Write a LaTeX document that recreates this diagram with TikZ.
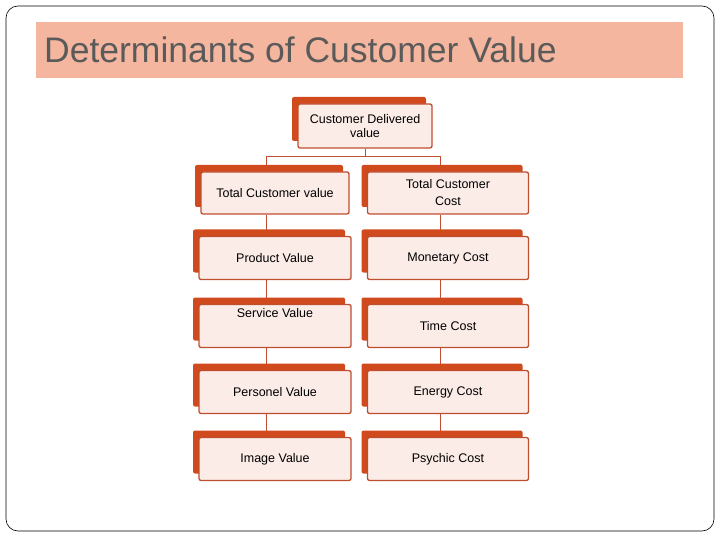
\documentclass[tikz,border=0pt]{standalone}
\usepackage{fontspec}
\setmainfont{Liberation Sans}
\usetikzlibrary{backgrounds}
\definecolor{band}{RGB}{244,182,158}
\definecolor{backred}{RGB}{208,74,30}
\definecolor{edge}{RGB}{190,78,48}
\definecolor{face}{RGB}{251,236,231}
\definecolor{titlegray}{RGB}{90,90,90}
\tikzset{back/.style={rectangle,rounded corners=2pt,fill=backred,inner sep=0pt},
  front/.style={rectangle,rounded corners=2pt,draw=edge,line width=1.3pt,fill=face,inner sep=0pt,align=center,font=\fontsize{12.5}{14}\selectfont},
  link/.style={draw=edge,line width=0.9pt}}
\newcommand{\cvbox}[6]{% name, cx, cy, width, height, text
  \node[back,minimum width=#4,minimum height=#5] (#1-b) at (#2-6,#3-7) {};
  \node[front,minimum width=#4,minimum height=#5] (#1) at (#2,#3) {#6};}
\begin{document}
\begin{tikzpicture}[x=1pt,y=-1pt]
\useasboundingbox (0,0) rectangle (720,540);
\draw[rounded corners=12pt,line width=0.6pt] (6,6) rectangle (714,531);
\fill[band] (36,22) rectangle (683,78);
\node[anchor=west,inner sep=0pt,text=titlegray,font=\fontsize{35.5}{38}\selectfont] (title) at (44,50) {Determinants of Customer Value};

\cvbox{cdv}{365}{126}{134}{44}{Customer Delivered\\value}
\cvbox{tcv}{275}{193}{148}{42}{Total Customer value}
\cvbox{tcc}{448}{193}{161}{42}{Total Customer\\[3pt]Cost}
\cvbox{pv}{275}{258}{152}{43}{Product Value}
\cvbox{mc}{448}{258}{161}{43}{Monetary Cost}
\cvbox{sv}{275}{326}{152}{43}{Service Value\\[12pt]\mbox{}}
\cvbox{tc}{448}{326}{161}{43}{Time Cost}
\cvbox{pnv}{275}{392}{152}{43}{Personel Value}
\cvbox{ec}{448}{392}{161}{43}{Energy Cost}
\cvbox{iv}{275}{459}{152}{43}{Image Value}
\cvbox{pc}{448}{459}{161}{43}{Psychic Cost}

\begin{scope}[on background layer]
\draw[link] (cdv.south) -- ++(0,8) -| ([xshift=-9]tcv.north);
\draw[link] (cdv.south) -- ++(0,8) -| ([xshift=-8]tcc.north);
\foreach \a/\b in {tcv/pv,pv/sv,sv/pnv,pnv/iv}
  \draw[link] ([xshift=-9]\a.south) -- ([xshift=-9]\b.north);
\foreach \a/\b in {tcc/mc,mc/tc,tc/ec,ec/pc}
  \draw[link] ([xshift=-8]\a.south) -- ([xshift=-8]\b.north);
\end{scope}
\end{tikzpicture}
\end{document}
